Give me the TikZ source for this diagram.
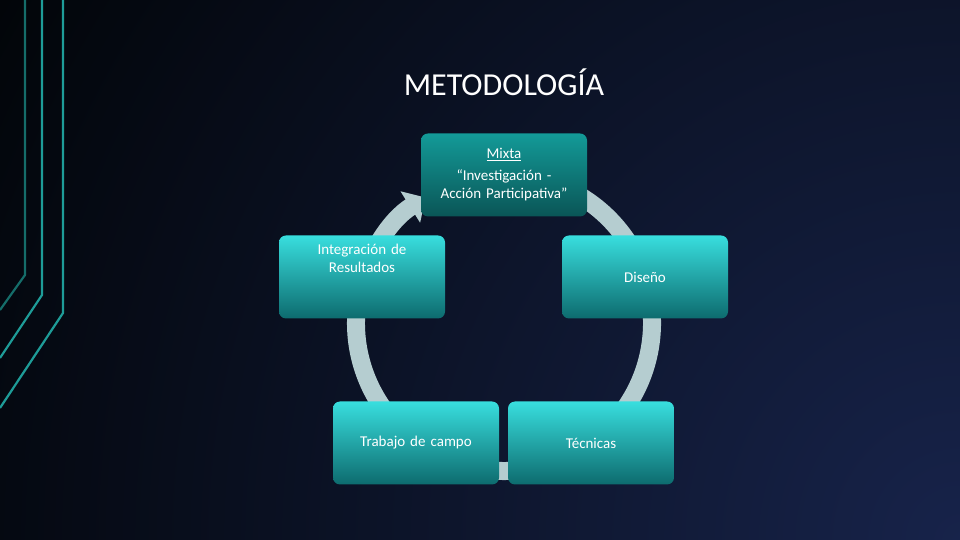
\documentclass[tikz,border=0pt]{standalone}
\usepackage{fontspec}
\setmainfont{Carlito}
\usetikzlibrary{arrows.meta}
\definecolor{bgA}{HTML}{020509}
\definecolor{bgB}{HTML}{17234A}
\definecolor{teal}{HTML}{1E9C98}
\definecolor{ring}{HTML}{B5CDD0}
\definecolor{nTop}{HTML}{38DEDE}
\definecolor{nBot}{HTML}{0D6B6E}
\definecolor{mTop}{HTML}{139A98}
\definecolor{mBot}{HTML}{0A5556}
\tikzset{
 box/.style={rounded corners=7pt, minimum width=166pt, minimum height=83pt, text width=150pt, align=center, text=white, font=\fontsize{15pt}{18pt}\selectfont, top color=nTop, bottom color=nBot, draw=none},
 boxm/.style={box, top color=mTop, bottom color=mBot},
 deco/.style={teal, line width=2.2pt}
}
\begin{document}
\begin{tikzpicture}[x=1pt,y=1pt]
\fill[bgA] (0,0) rectangle (960,540);
\begin{scope}
\clip (0,0) rectangle (960,540);
\shade[inner color=bgB, outer color=bgA] (960,0) circle (1100);
\end{scope}
\useasboundingbox (0,0) rectangle (960,540);
\draw[deco, teal!70!black] (25,540) -- (25,265) -- (0,230);
\draw[deco] (42,540) -- (42,245) -- (0,182);
\draw[deco] (63,540) -- (63,227) -- (0,132);
\node[text=white, font=\fontsize{32pt}{36pt}\selectfont] (title) at (504,458) {METODOLOGÍA};
\coordinate (c) at (504,217);
\draw[ring, line width=18pt, -{Triangle[width=36pt,length=18pt]}] ([shift={(80:148)}]c) arc[start angle=80, end angle=-238, radius=148];
\node[boxm] (m) at (504,365) {\underline{Mixta}\\[4pt]“Investigación -\\Acción Participativa”};
\node[box] (d) at (645,263) {Diseño};
\node[box] (t) at (591,97) {Técnicas};
\node[box] (tc) at (416,97) {Trabajo de campo};
\node[box] (i) at (362,263) {Integración de\\Resultados\\[20pt]\mbox{}};
\end{tikzpicture}
\end{document}
